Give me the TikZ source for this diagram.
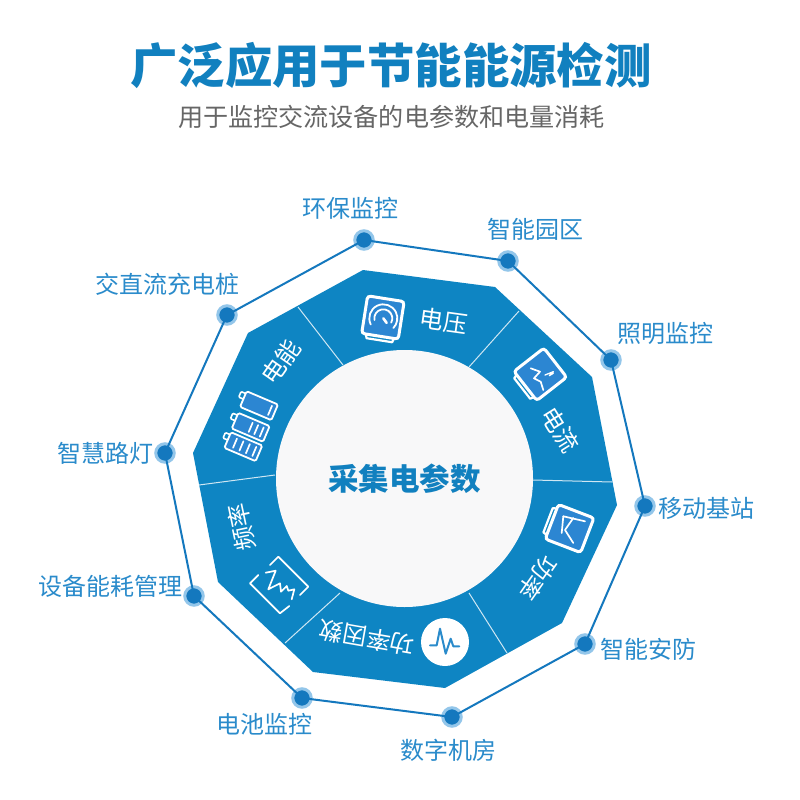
\documentclass[tikz,border=0pt]{standalone}
\usepackage{fontspec}
\setmainfont{Noto Sans CJK SC}
\definecolor{ringblue}{HTML}{0E85C3}
\definecolor{iconblue}{HTML}{2C86D2}
\definecolor{titleblue}{HTML}{1180BF}
\definecolor{labelblue}{HTML}{2A8BCB}
\definecolor{dotdark}{HTML}{1478BE}
\definecolor{dotlight}{HTML}{93C6EA}
\definecolor{hubgrey}{HTML}{F8F8F9}
\definecolor{subgrey}{HTML}{666666}
\tikzset{
  sz/.style={font=\fontsize{#1}{#1}\selectfont},
  outerlabel/.style={sz=24,text=labelblue,inner sep=0pt},
  sectorlabel/.style={sz=24,text=white,inner sep=0pt},
  hubdot/.style={circle,fill=dotdark,draw=dotlight,line width=3pt,minimum size=18.5pt,inner sep=0pt},
  outerline/.style={draw=dotdark,line width=2pt},
  divider/.style={draw=white!80!ringblue,line width=1pt},
  iconline/.style={draw=white,line width=1.7pt,line join=round,line cap=round},
  iconframe/.style={draw=white,fill=iconblue,line width=3pt,rounded corners=3pt},
}
\newcommand{\meterframe}[3]{%
  \begin{scope}[shift={(#1,#2)},rotate=#3]
    \draw[draw=white,line width=2.2pt,line join=round] (-14,20) -- (-13,23.5) -- (13,23.5) -- (14,20);
    \draw[iconframe] (-18.5,-18.5) rectangle (18.5,19.5);
  \end{scope}}
\newcommand{\cellbody}[4]{%
  \begin{scope}[shift={(#1,#2)},rotate=-23]
    \draw[draw=white,line width=1.6pt,rounded corners=1pt] (-17,-6) -- (-22,-6) -- (-22,0) -- (-17,0);
    \draw[draw=white,fill=iconblue,line width=1.8pt,rounded corners=1.5pt] (-17,-8.5) rectangle (17,8.5);
    \foreach \bx in {#3} \draw[iconline,line width=#4] (\bx,-5) -- (\bx,5);
  \end{scope}}
\begin{document}
\begin{tikzpicture}[x=1pt,y=-1pt]
\useasboundingbox[fill=white] (0,0) rectangle (800,800);

% title
\node[text=titleblue,inner sep=0pt,font=\fontsize{47.4}{47.4}\selectfont\bfseries] (title) at (391,66) {广泛应用于节能能源检测};
\node[sz=25.1,text=subgrey,inner sep=0pt] (subtitle) at (391.5,117) {用于监控交流设备的电参数和电量消耗};

% ring
\fill[ringblue] (363,270) -- (495,287) -- (592,377) -- (617,505) -- (562,623) -- (445,688) -- (313,672) -- (218,582) -- (193,453) -- (248,333) -- cycle;
\draw[divider] (298,307) -- (343,365);
\draw[divider] (519,311) -- (469,367);
\draw[divider] (533,480) -- (612,482);
\draw[divider] (469,593) -- (507,653);
\draw[divider] (340,593) -- (285,643);
\draw[divider] (275,475) -- (199,485);
\node[circle,fill=hubgrey,minimum size=257pt,inner sep=0pt,text=titleblue,font=\fontsize{30.5}{30.5}\selectfont\bfseries] (hub) at (404.5,478.5) {采集电参数};

% outer dots
\node[hubdot] (p1) at (364,240) {};
\node[hubdot] (p2) at (508,261) {};
\node[hubdot] (p3) at (611,360) {};
\node[hubdot] (p4) at (645,506) {};
\node[hubdot] (p5) at (585,644) {};
\node[hubdot] (p6) at (452,717) {};
\node[hubdot] (p7) at (302,698) {};
\node[hubdot] (p8) at (194,596) {};
\node[hubdot] (p9) at (165,453) {};
\node[hubdot] (p10) at (227,315) {};
\draw[outerline] (p1.center) -- (p2.center) -- (p3.center) -- (p4.center) -- (p5.center) -- (p6.center) -- (p7.center) -- (p8.center) -- (p9.center) -- (p10.center) -- cycle;

% outer labels
\node[outerlabel] (l1) at (350,208) {环保监控};
\node[outerlabel] (l2) at (535,229) {智能园区};
\node[outerlabel] (l3) at (665,333) {照明监控};
\node[outerlabel] (l4) at (706,508) {移动基站};
\node[outerlabel] (l5) at (648,649) {智能安防};
\node[outerlabel] (l6) at (448,750) {数字机房};
\node[outerlabel] (l7) at (264,724) {电池监控};
\node[outerlabel] (l8) at (110,586) {设备能耗管理};
\node[outerlabel] (l9) at (105,453) {智慧路灯};
\node[outerlabel] (l10) at (167,284) {交直流充电桩};

% sector labels
\node[sectorlabel,rotate=-8] (s1) at (444,321) {电压};
\node[sectorlabel,rotate=-58] (s2) at (560,430) {电流};
\node[sectorlabel,rotate=-125] (s3) at (538,578) {功率};
\node[sectorlabel,rotate=170] (s4) at (367,638) {功率因数};
\node[sectorlabel,rotate=102] (s5) at (242,527) {频率};
\node[sectorlabel,rotate=55] (s6) at (281,362) {电能};

% gauge icon
\meterframe{383}{317}{-9}
\begin{scope}[shift={(383.3,318.3)},rotate=-9]
  \draw[iconline,line width=1.8pt] (215:14pt) arc[start angle=215,end angle=-35,radius=14pt];
  \draw[iconline,line width=1.8pt] (200:9pt) arc[start angle=200,end angle=-20,radius=9pt];
  \draw[white,line width=2.6pt,line cap=round] (0,0) -- (4,4);
\end{scope}

% current icon
\meterframe{540.7}{374}{-52}
\draw[iconline] (530.7,368.3) -- (540,371.7) -- (534,378.3) -- (540.7,381.7) -- (543.3,390);
\draw[iconline,line width=1.3pt] (545,375) -- (553.3,371.7) -- (549.3,375.7) -- (553.3,373.3);

% power icon
\meterframe{570}{528.7}{-111}
\draw[iconline] (563.3,516.3) -- (585,521.3);
\draw[iconline] (563.3,516.3) -- (561.7,533);
\draw[iconline] (573.3,518) -- (565,530) -- (573.3,543);

% pulse icon
\node[circle,fill=white,minimum size=48pt,inner sep=0pt] (pulse) at (445,642) {};
\draw[draw=labelblue,line width=2pt,line join=round,line cap=round] (430,645.3) -- (436.7,645.3) -- (440,628.7) -- (445.7,653.7) -- (450.7,638.7) -- (453.3,646.3) -- (459.3,646.3);

% frequency icon
\draw[iconline] (270,565) -- (278.3,556.7) -- (308.3,586.7) -- (300,595);
\draw[iconline] (258.3,575) -- (250,583.3) -- (280,613.3) -- (289.3,606);
\draw[iconline] (265.7,572.7) -- (275.7,570.7) -- (268.3,589.3) -- (280,583.3) -- (281,591.7) -- (286.7,586) -- (288.3,590.7) -- (294.3,589.3) -- (291.7,599.3);

% battery icon
\cellbody{259}{405.7}{12}{1.7pt}
\cellbody{250.7}{427.3}{0,6,12}{1.7pt}
\cellbody{243.3}{446.7}{-9,-2,5,12}{1.7pt}
\end{tikzpicture}
\end{document}
